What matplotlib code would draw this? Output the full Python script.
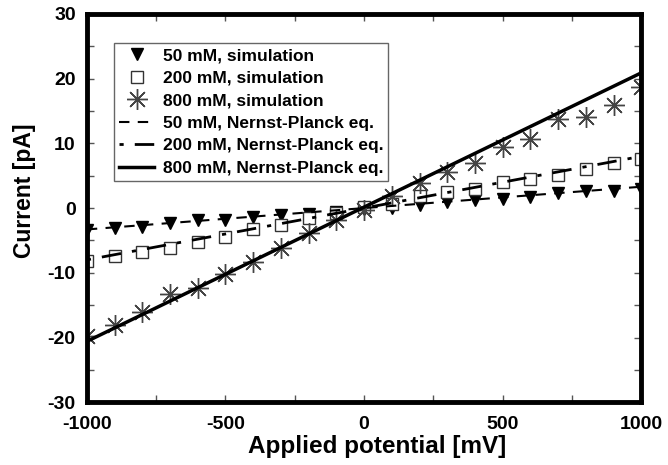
import numpy as np
import matplotlib.pyplot as plt
from matplotlib.ticker import MultipleLocator

plt.rcParams['font.family'] = ['Liberation Sans', 'DejaVu Sans']
plt.rcParams['font.weight'] = 'bold'
plt.rcParams['axes.unicode_minus'] = False

# Данные: потенциал, мВ
V = np.arange(-1000, 1001, 100)
I_50 = [-3.4, -3.1, -2.9, -2.3, -1.9, -1.8, -1.3, -1.1, -0.9, -0.6, -0.1,
        0.0, 0.4, 0.9, 1.2, 1.4, 1.7, 2.3, 2.6, 2.7, 3.0]
I_200 = [-8.2, -7.4, -6.8, -6.1, -5.3, -4.5, -3.3, -2.6, -1.6, -0.8, 0.1,
         0.7, 1.8, 2.5, 3.0, 4.0, 4.5, 5.1, 6.1, 6.9, 7.6]
I_800 = [-19.8, -18.0, -16.1, -13.3, -12.4, -10.2, -8.3, -6.1, -3.9, -1.9, -0.3,
         1.9, 3.8, 5.6, 6.9, 9.4, 10.7, 13.7, 14.1, 15.9, 18.7]

# Нернст-Планк (прямые)
V_np = [-1000, 1000]
NP_50 = [-3.3, 3.3]
NP_200 = [-8.0, 8.0]
NP_800 = [-20.6, 20.9]

fig = plt.figure(figsize=(6.68, 4.65), dpi=100)
ax = fig.add_axes([0.130, 0.135, 0.830, 0.835])

ax.plot(V, I_50, 'v', color='black', markersize=9, label='50 mM, simulation')
ax.plot(V, I_200, 's', mfc='white', mec='#333333', mew=1.0, markersize=9,
        label='200 mM, simulation')
ax.plot(V, I_800, marker=(8, 2, 0), ls='none', color='#444444', mew=1.0,
        markersize=15, label='800 mM, simulation')
ax.plot(V_np, NP_50, color='black', lw=1.5, dashes=(5, 4),
        label='50 mM, Nernst-Planck eq.')
ax.plot(V_np, NP_200, color='black', lw=2, dashes=(1.5, 4, 7, 4),
        label='200 mM, Nernst-Planck eq.')
ax.plot(V_np, NP_800, color='black', lw=2.5, label='800 mM, Nernst-Planck eq.')

ax.set_xlim(-1000, 1000)
ax.set_ylim(-30, 30)
ax.xaxis.set_major_locator(MultipleLocator(500))
ax.xaxis.set_minor_locator(MultipleLocator(250))
ax.yaxis.set_major_locator(MultipleLocator(10))
ax.yaxis.set_minor_locator(MultipleLocator(5))
ax.tick_params(which='both', direction='in', top=True, right=True,
               color='#555555', width=1, length=5, labelsize=14)
ax.tick_params(axis='x', pad=10)
ax.tick_params(axis='y', pad=8)
for s in ax.spines.values():
    s.set_linewidth(3.5)

ax.set_xlabel('Applied potential [mV]', fontsize=17.5, fontweight='bold')
ax.set_ylabel('Current [pA]', fontsize=16.5, fontweight='bold')
ax.xaxis.set_label_coords(0.523, -0.085)
ax.yaxis.set_label_coords(-0.092, 0.544)

leg = ax.legend(loc='upper left', bbox_to_anchor=(0.049, 0.925), borderaxespad=0,
                fontsize=12.5, fancybox=False, edgecolor='#666666', framealpha=1,
                handlelength=2.0, handletextpad=0.5, labelspacing=0.42,
                borderpad=0.3)
leg.get_frame().set_linewidth(1)

fig.savefig('out.png', dpi=100)
